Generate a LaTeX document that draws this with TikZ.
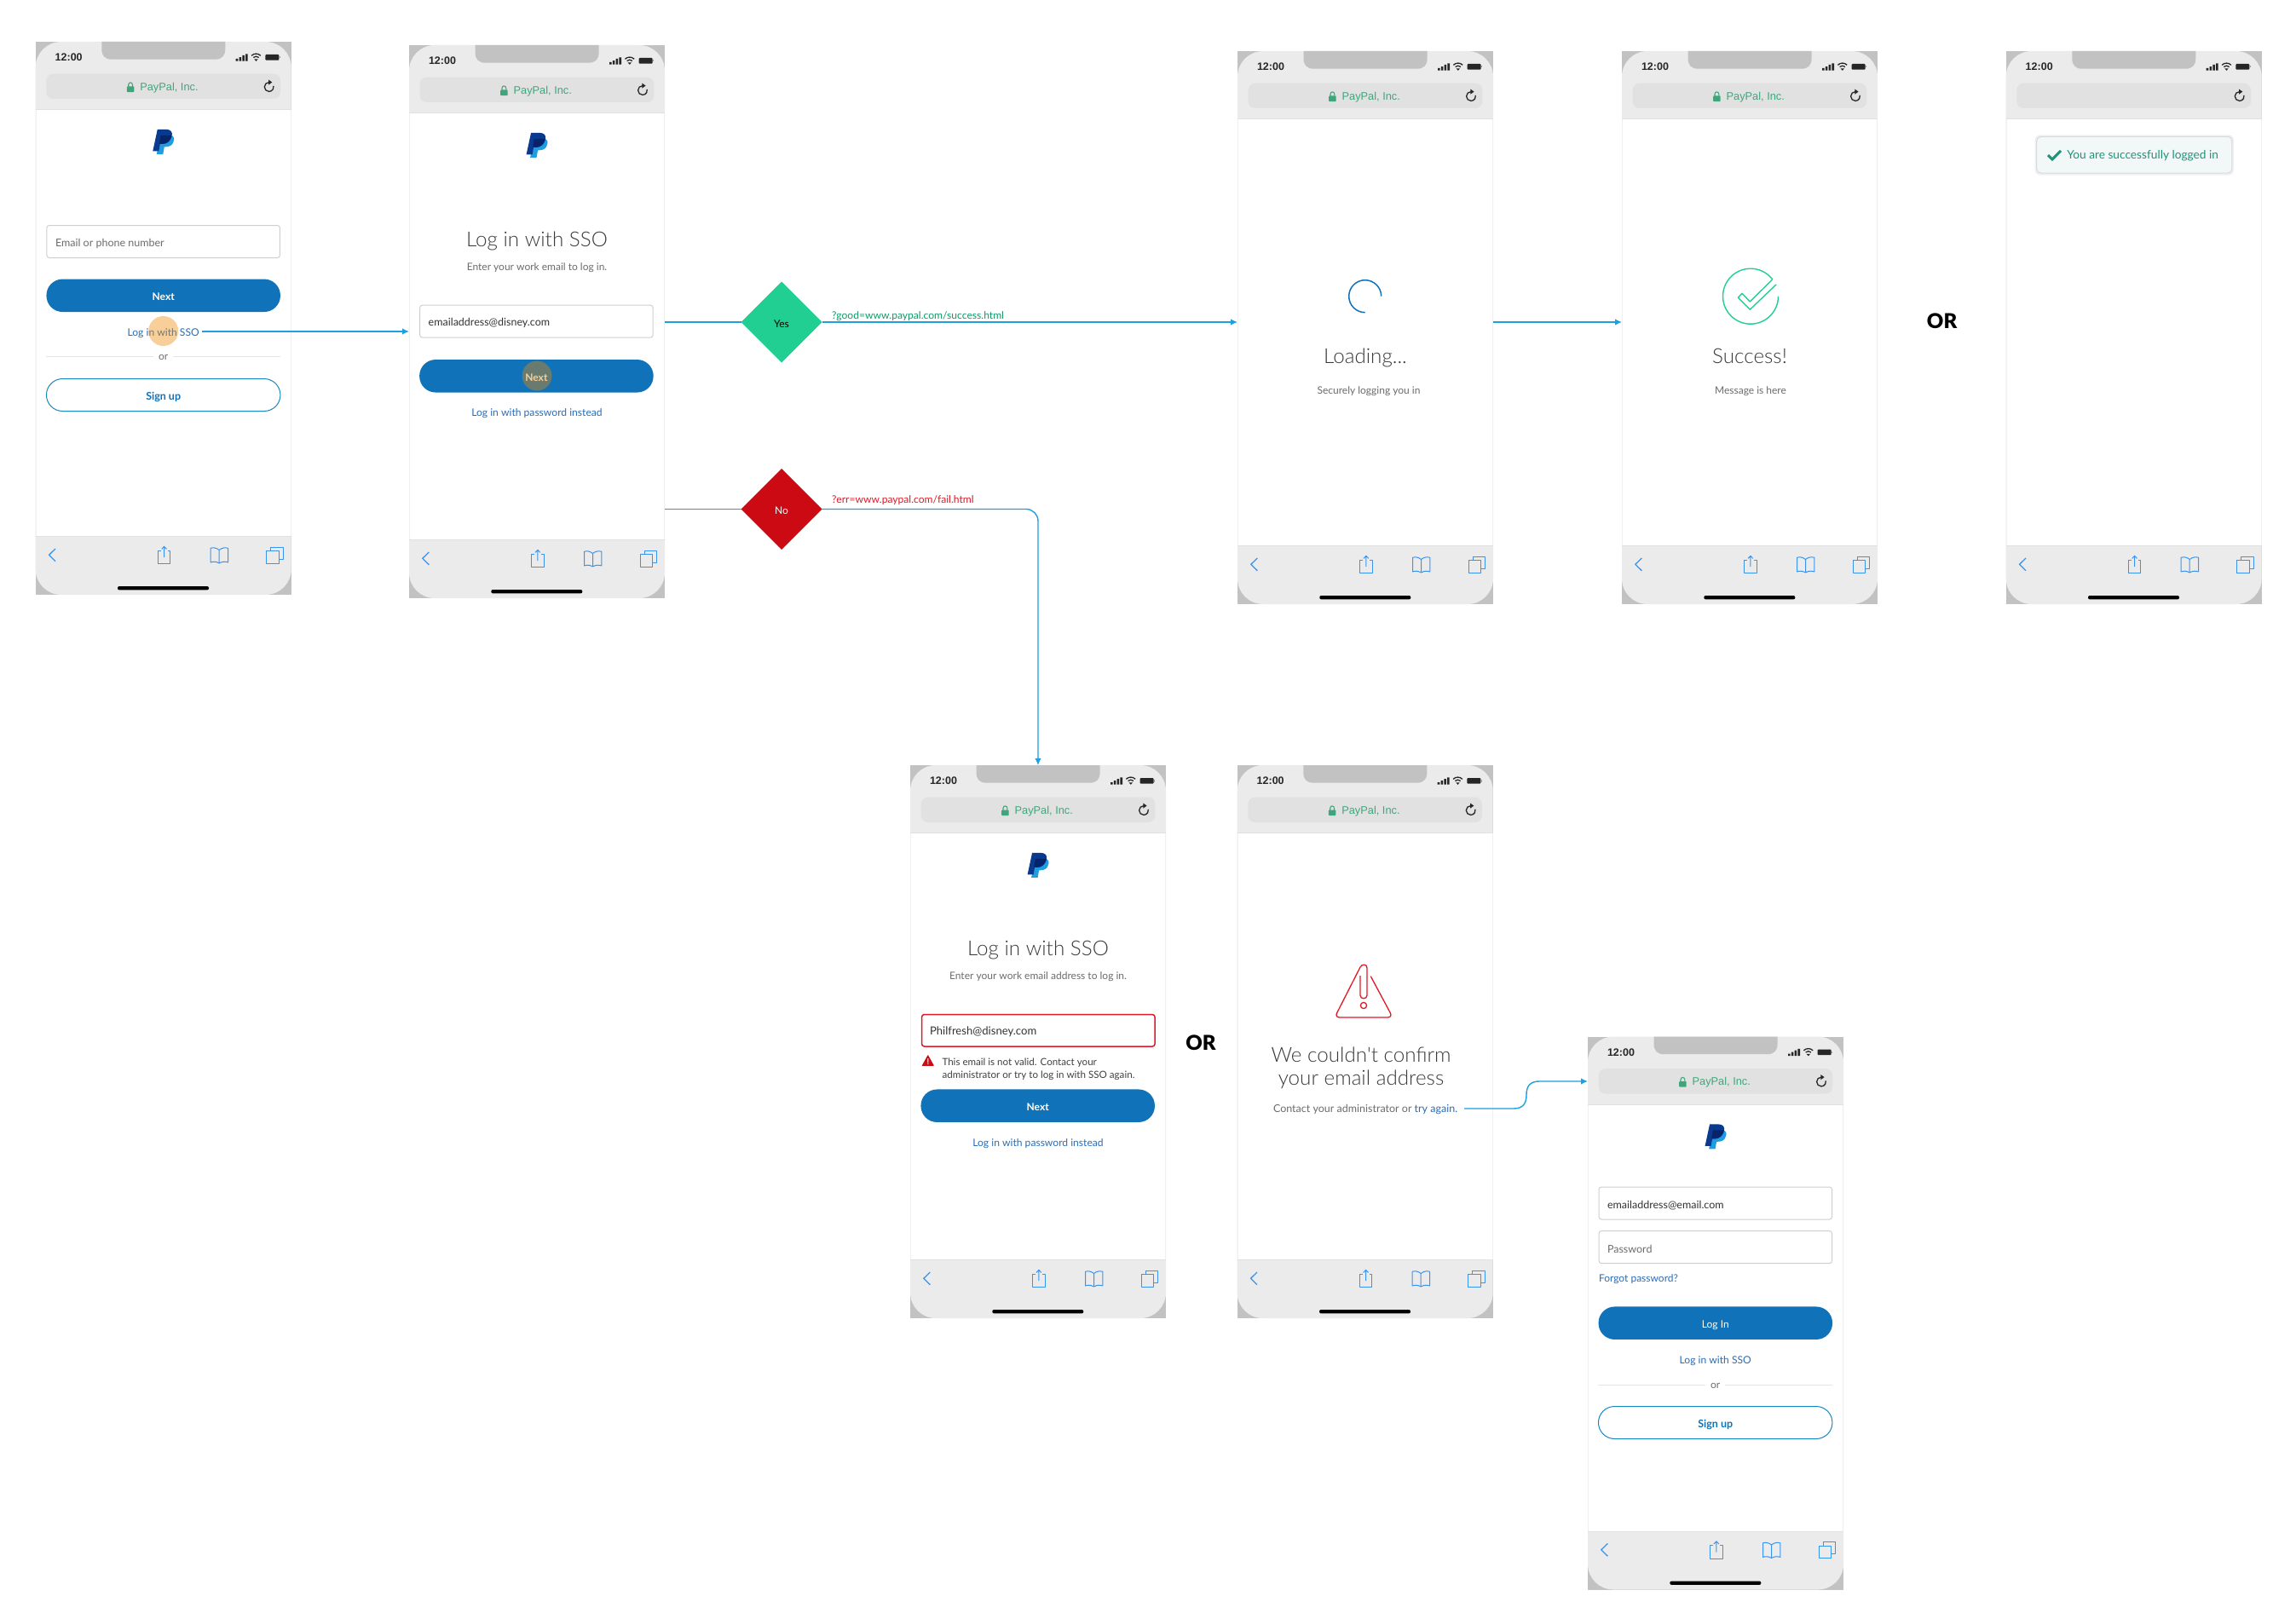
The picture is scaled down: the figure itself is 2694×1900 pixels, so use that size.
\documentclass[tikz,border=0pt]{standalone}
\usepackage{fontspec}
\setmainfont{Lato}
\newfontfamily\arialf{Liberation Sans}
\newfontfamily\lightf{Lato Light}
\newfontfamily\blackf{Lato Black}
\usetikzlibrary{arrows.meta,shapes.geometric}
\definecolor{chrome}{HTML}{EBEBEB}
\definecolor{cornerg}{HTML}{C2C2C2}
\definecolor{urlbar}{HTML}{E1E1E1}
\definecolor{urlgreen}{HTML}{3FA67C}
\definecolor{ppblue}{HTML}{1072B8}
\definecolor{linkblue}{HTML}{2A6DB5}
\definecolor{iconblue}{HTML}{3A94EE}
\definecolor{conn}{HTML}{1D9FE0}
\definecolor{titleg}{HTML}{3A3A3A}
\definecolor{subg}{HTML}{6C6C6C}
\definecolor{inputb}{HTML}{CFCFCF}
\definecolor{yesgreen}{HTML}{21CF93}
\definecolor{nored}{HTML}{CC0A14}
\definecolor{errred}{HTML}{DC1C28}
\definecolor{urlok}{HTML}{0F9A6E}
\definecolor{touch}{HTML}{F08700}
\definecolor{toastg}{HTML}{1F9377}
\definecolor{toastbg}{HTML}{F2F8F8}
\definecolor{logolight}{HTML}{1E9DE0}
\definecolor{logodark}{HTML}{0A3A8F}
\definecolor{logomid}{HTML}{07246B}
\newcommand\pfs[1]{\fontsize{#1}{#1}\selectfont}
\tikzset{
  x=1pt,y=-1pt,
  every node/.style={inner sep=0pt,outer sep=0pt},
  phonebox/.style={rectangle,minimum width=300pt,minimum height=649pt,fill=cornerg},
  titletxt/.style={font=\lightf\pfs{24.2},text=titleg,yshift=-1pt,text height=22.5pt,text depth=5pt},
  subtxt/.style={font=\pfs{12},text=subg,yshift=-1.7pt},
  linktxt/.style={font=\pfs{12.1},text=linkblue,yshift=-1.7pt},
  valtxt/.style={font=\pfs{12.5},text=black!80,anchor=west,yshift=-1.7pt},
  holdtxt/.style={font=\pfs{12.5},text=subg,anchor=west,yshift=-1.7pt},
  inputbox/.style={rectangle,draw=inputb,line width=1pt,fill=white,rounded corners=3pt,minimum width=273.5pt,minimum height=38pt},
  btn/.style={rectangle,fill=ppblue,rounded corners=19pt,minimum width=274.5pt,minimum height=38.5pt,text=white,font=\bfseries\pfs{12},text height=12pt,text depth=0pt},
  outbtn/.style={rectangle,draw=conn!85!black,line width=1pt,fill=white,rounded corners=19pt,minimum width=274.5pt,minimum height=38pt,text=ppblue,font=\bfseries\pfs{12.5},text height=12pt,text depth=0pt},
  ortxt/.style={font=\pfs{12},text=subg,yshift=-1.7pt},
  touchspot/.style={circle,fill=touch,fill opacity=.4,minimum size=35pt},
  decis/.style={diamond,aspect=1,minimum width=95pt,minimum height=95pt,font=\pfs{12},text height=12pt,text depth=0pt},
  connline/.style={draw=conn,line width=1.4pt,-{Latex[length=8pt,width=7.5pt]}},
  plainline/.style={draw=conn,line width=1.4pt},
  bigor/.style={font=\blackf\pfs{24},text=black},
  icon/.style={draw=iconblue,line width=1pt,line join=round},
}
% browser chrome
\newcommand\phone[3]{%
  \node[phonebox,anchor=north west] (#1) at (#2,#3) {};
  \begin{scope}[shift={(#2,#3)}]
    \fill[chrome,rounded corners=30pt] (0,0) rectangle (300,649);
    \fill[white] (0,79.5) rectangle (300,580.5);
    \draw[black!6,line width=1pt] (0.5,79.5) -- (0.5,580.5) (299.5,79.5) -- (299.5,580.5);
    \draw[black!12,line width=1pt] (0,79.5) -- (300,79.5) (0,580.5) -- (300,580.5);
    % notch
    \fill[cornerg] (77.6,0) -- (222.6,0) -- (222.6,8.7) .. controls (222.6,16) and (219,20.7) .. (210.6,20.7) -- (89.6,20.7) .. controls (81,20.7) and (77.6,16) .. (77.6,8.7) -- cycle;
    \node[font=\arialf\bfseries\pfs{12.5},text=black!85] (#1time) at (39,18.5) {12:00};
    % signal
    \fill[black!85] (235,20) rectangle (237.6,22.7) (238.8,18.2) rectangle (241.4,22.7) (242.6,16) rectangle (245.2,22.7) (246.4,14.3) rectangle (249,22.7);
    % wifi
    \fill[black!85] (258.8,22.8) -- (256.6,20.4) -- (261,20.4) -- cycle;
    \draw[black!85,line width=1.3pt] (255.6,18.5) arc[start angle=135,end angle=45,radius=4.5pt];
    \draw[black!85,line width=1.3pt] (253.4,16.3) arc[start angle=135,end angle=45,radius=7.6pt];
    % battery
    \fill[black!85,rounded corners=1pt] (269.6,15) rectangle (285.6,21.7);
    \fill[black!40] (286.4,17.2) rectangle (287.3,19.5);
    % url bar
    \fill[urlbar,rounded corners=8pt] (12.6,37.7) rectangle (287.3,67);
    % reload
    \draw[black!85,line width=1.3pt] (274,47.6) arc[start angle=90,end angle=372,radius=5.4pt];
    \fill[black!85] (273.4,44.6) -- (277.6,47.6) -- (273.4,50.6) -- cycle;
    % home bar
    \fill[black,rounded corners=2pt] (96.3,639) rectangle (203.3,643.4);
    % bottom icons
    \begin{scope}[shift={(0,1)}]
    \draw[icon,line width=1.3pt] (23.3,594) -- (15.8,601.3) -- (23.3,608.7);
    \draw[black!8,line width=1.3pt] (81.2,594) -- (87.6,601.3) -- (81.2,608.7);
    \draw[icon] (146.8,596.4) -- (143.6,596.4) -- (143.6,611.6) -- (158.2,611.6) -- (158.2,596.4) -- (154.8,596.4);
    \draw[icon] (150.9,604) -- (150.9,591.5) (148,594.4) -- (150.9,591.3) -- (153.8,594.4);
    \draw[icon] (215.5,595.5) .. controls (212,592.5) and (208,592.5) .. (205.5,593.3) -- (205.5,610) .. controls (208,608.8) and (212,608.8) .. (215.5,611) .. controls (219,608.8) and (223,608.8) .. (225.8,610) -- (225.8,593.3) .. controls (223,592.5) and (219,592.5) .. (215.5,595.5) -- (215.5,611);
    \draw[icon] (271,596.6) rectangle (285.4,611.4);
    \draw[icon] (276,596.4) -- (276,592) -- (290.8,592) -- (290.8,606.4) -- (285.6,606.4);
    \end{scope}
  \end{scope}%
}
\newcommand\phoneurl[3]{%
  \begin{scope}[shift={(#2,#3)}]
    \fill[urlgreen,rounded corners=.8pt] (107.2,52.5) rectangle (115.6,59.2);
    \draw[urlgreen,line width=1.1pt] (109,53) -- (109,50.6) .. controls (109,47) and (113.8,47) .. (113.8,50.6) -- (113.8,53);
    \node[font=\arialf\pfs{12.8},text=urlgreen,anchor=west] (#1url) at (122.6,54) {PayPal, Inc.};
  \end{scope}%
}
\newcommand\phonelogo[3]{%
  \begin{scope}[shift={(#2+137.6,#3+102.8)}]
    \fill[logolight] (9.5,7) -- (20,7) .. controls (25,7) and (26,11) .. (24,15) .. controls (23,19) and (19,20.5) .. (15,20.5) -- (13.5,20.5) -- (12,29) -- (4.5,29) -- cycle;
    \fill[logodark] (5.5,0) -- (15,0) .. controls (21,0) and (24,3) .. (22,9) .. controls (20,15) and (16,17) .. (12,17) -- (8.5,17) -- (7,25.5) -- (0,25.5) -- cycle;
    \fill[logomid] (9.2,7) -- (22.4,7) .. controls (21,13) and (16,17) .. (12,17) -- (7.6,17) -- cycle;
  \end{scope}%
}
\begin{document}
\begin{tikzpicture}
\useasboundingbox (0,0) rectangle (2694,1900);
\fill[white] (0,0) rectangle (2694,1900);

\phone{pa}{41.7}{49}\phoneurl{pa}{41.7}{49}\phonelogo{pa}{41.7}{49}
\phone{pb}{480}{53}\phoneurl{pb}{480}{53}\phonelogo{pb}{480}{53}
\phone{pc}{1452}{60}\phoneurl{pc}{1452}{60}
\phone{pd}{1903}{60}\phoneurl{pd}{1903}{60}
\phone{pe}{2353.7}{60}
\phone{pf}{1068}{898}\phoneurl{pf}{1068}{898}\phonelogo{pf}{1068}{898}
\phone{pg}{1451.7}{898}\phoneurl{pg}{1451.7}{898}
\phone{ph}{1863}{1216.5}\phoneurl{ph}{1863}{1216.5}\phonelogo{ph}{1863}{1216.5}

% --- phone a
\node[inputbox] (aemail) at (191.7,283.5) {};
\node[holdtxt] (aemailt) at (65,284) {Email or phone number};
\node[btn] (anext) at (191.7,346.8) {Next};
\node[linktxt] (asso) at (191.7,389) {Log in with SSO};
\node[touchspot] (atouch) at (191.7,388.5) {};
\draw[black!10,line width=1pt] (54,418.8) -- (180,418.8) (203,418.8) -- (329,418.8);
\node[ortxt] (aor) at (191.7,418) {or};
\node[outbtn] (asign) at (191.7,463.5) {Sign up};

% --- phone b
\node[titletxt] (btitle) at (630,279.4) {Log in with SSO};
\node[subtxt] (bsub) at (630,312) {Enter your work email to log in.};
\node[inputbox] (bemail) at (629.4,377.2) {};
\node[valtxt] (bemailt) at (502.7,377.5) {emailaddress@disney.com};
\node[btn] (bnext) at (629.4,441.3) {Next};
\node[touchspot] (btouch) at (630,441) {};
\node[linktxt] (bpw) at (630,483) {Log in with password instead};

% --- decisions
\node[decis,fill=yesgreen,text=black] (yes) at (917,378) {Yes};
\node[decis,fill=nored,text=white] (no) at (917,597.5) {No};
\node[font=\pfs{12.1},text=urlok,anchor=west,yshift=-1.7pt] (yesurl) at (976,369) {?good=www.paypal.com/success.html};
\node[font=\pfs{12.1},text=errred,anchor=west,yshift=-1.7pt] (nourl) at (976,585) {?err=www.paypal.com/fail.html};

% --- phone c
\draw[ppblue,line width=1.5pt] (1620.7,347.7) arc[start angle=0,end angle=270,radius=19pt];
\node[titletxt] (ctitle) at (1602,416.7) {Loading...};
\node[subtxt] (csub) at (1606,457) {Securely logging you in};

% --- phone d
\draw[yesgreen,line width=1.4pt] (2086.5,347.7) arc[start angle=0,end angle=-323,radius=32.5pt];
\draw[yesgreen,line width=1.4pt,line join=round] (2079.3,328.3) -- (2053.3,354) -- (2044,344.3) -- (2039.3,349.3) -- (2053.3,363.3) -- (2084,334);
\node[titletxt] (dtitle) at (2053,417) {Success!};
\node[subtxt] (dsub) at (2054,457) {Message is here};
\node[bigor] (or1) at (2278.6,376.7) {OR};

% --- phone e
\fill[black!6,rounded corners=6pt] (2387.7,158.3) rectangle (2621,205.5);
\node[rectangle,draw=black!15,line width=1pt,fill=toastbg,rounded corners=5pt,minimum width=229.3pt,minimum height=42.7pt] (toast) at (2504.3,181.7) {};
\draw[toastg,line width=3pt] (2403,182) -- (2408,187) -- (2418,177);
\node[font=\pfs{13.7},text=toastg,anchor=west,yshift=-.8pt] (toastt) at (2425.3,181.5) {You are successfully logged in};

% --- phone f (error)
\node[titletxt] (ftitle) at (1218,1111.6) {Log in with SSO};
\node[subtxt] (fsub) at (1218,1144.5) {Enter your work email address to log in.};
\node[rectangle,draw=errred,line width=1.5pt,fill=white,rounded corners=3pt,minimum width=273.5pt,minimum height=37.5pt] (femail) at (1218.3,1209.3) {};
\node[valtxt,font=\pfs{13.1}] (femailt) at (1091,1209.5) {Philfresh@disney.com};
\fill[nored,rounded corners=.6pt] (1088.8,1237.8) -- (1096,1250.8) -- (1081.6,1250.8) -- cycle;
\fill[white] (1088.3,1242) rectangle (1089.4,1246.8) (1088.3,1247.6) rectangle (1089.4,1249);
\node[font=\pfs{11.6},text=black!75,anchor=west,yshift=-1.7pt] (ferr1) at (1105.5,1245.6) {This email is not valid. Contact your};
\node[font=\pfs{11.6},text=black!75,anchor=west,yshift=-1.7pt] (ferr2) at (1105.5,1261) {administrator or try to log in with SSO again.};
\node[btn] (fnext) at (1217.7,1297.7) {Next};
\node[linktxt] (fpw) at (1218,1340) {Log in with password instead};
\node[bigor] (or2) at (1409,1224) {OR};

% --- phone g (fail)
\draw[errred,line width=1.3pt,line join=round] (1608.3,1145.7) -- (1631.2,1188.5) .. controls (1633,1192) and (1631.5,1194) .. (1628,1194) -- (1572,1194) .. controls (1568.5,1194) and (1567,1192) .. (1568.8,1188.5) -- (1596,1135) .. controls (1598,1131) and (1604,1131) .. (1604,1136) -- (1604,1168) .. controls (1604,1173) and (1596,1173) .. (1596,1168) -- (1596,1145);
\draw[errred,line width=1.3pt] (1600,1180) circle[radius=3.6pt];
\node[titletxt] (gtitle1) at (1597,1237) {We couldn't confirm};
\node[titletxt] (gtitle2) at (1597,1264) {your email address};
\node[subtxt,anchor=west,font=\pfs{12.5}] (gsub) at (1494,1300) {Contact your administrator or \textcolor{linkblue}{try again.}};

% --- phone h
\node[inputbox] (hemail) at (2012.8,1412) {};
\node[valtxt] (hemailt) at (1886,1413) {emailaddress@email.com};
\node[inputbox] (hpass) at (2012.8,1463.6) {};
\node[holdtxt] (hpasst) at (1886,1464) {Password};
\node[linktxt,anchor=west,font=\pfs{12}] (hforgot) at (1876,1499) {Forgot password?};
\node[btn,font=\pfs{12}] (hlogin) at (2012.8,1552.7) {Log In};
\node[linktxt] (hsso) at (2012.7,1595) {Log in with SSO};
\draw[black!10,line width=1pt] (1875,1625) -- (2001,1625) (2024,1625) -- (2150,1625);
\node[ortxt] (hor) at (2012.7,1624.5) {or};
\node[outbtn] (hsign) at (2012.7,1669.5) {Sign up};

% --- connectors
\coordinate (ssoy) at (0,389);
\draw[connline] ([xshift=3pt]asso.east |- ssoy) -- (pb.west |- ssoy);
\draw[plainline] (pb.east |- yes.west) -- (yes.west);
\draw[connline] (yes.east) -- (pc.west |- yes.east);
\draw[plainline] (pb.east |- no.west) -- (no.west);
\draw[connline,rounded corners=14pt] (no.east) -| (pf.north);
\draw[connline] (pc.east |- yes.east) -- (pd.west |- yes.east);
\coordinate (trystart) at (1718,1301);
\coordinate (tryend) at (1863,1269);
\draw[connline] (trystart) -- (1776,1301) .. controls (1787,1301) and (1791,1295) .. (1791,1285) .. controls (1791,1275) and (1795,1269) .. (1806,1269) -- (tryend);
\end{tikzpicture}
\end{document}
